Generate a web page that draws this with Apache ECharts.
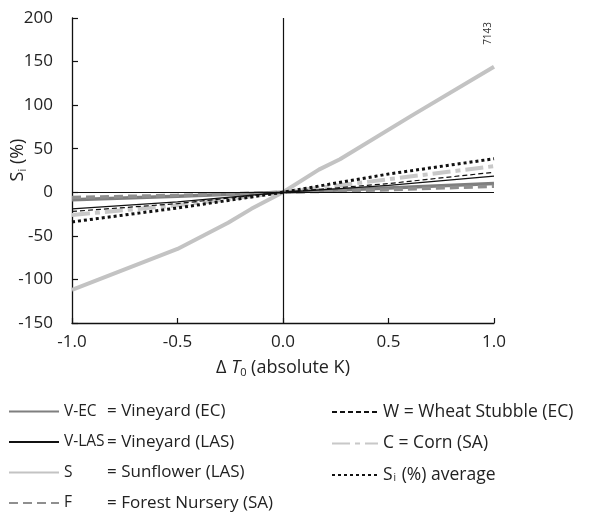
<!DOCTYPE html>
<html>
<head>
<meta charset="utf-8">
<script src="https://cdn.jsdelivr.net/npm/echarts@6/dist/echarts.min.js"></script>
<style>html,body{margin:0;padding:0;background:#fff}#c{width:611px;height:512px}</style>
</head>
<body>
<div id="c"></div>
<script>
var xTicks = [-1.0, -0.5, 0.0, 0.5, 1.0];
var yTicks = [-150, -100, -50, 0, 50, 100, 150, 200];

var xCommon = [-1.0, -0.5, 0.0, 0.5, 1.0];
var vEC   = [-8.5, -4.5, 0, 5, 10];
var vLAS  = [-19, -11, 0, 8, 18.5];
var forest = [-6, -3.5, 0, 3, 7];
var wheat = [-22, -13, 0, 10, 23];
var corn  = [-26, -15, 0, 15, 30];
var avg   = [-34, -18, 0, 21, 38.5];

var xSun = [-1.0, -0.5, -0.26, -0.15, 0.0, 0.17, 0.27, 0.61, 1.0];
var sun  = [-112, -65, -35, -19, 0, 26, 38, 88, 144];

function pairs(xs, ys){ return xs.map(function(x,i){ return [x, ys[i]]; }); }

var FONT = 'Open Sans';
var chart = echarts.init(document.getElementById('c'));

function mk(name, xs, ys, color, width, type, z){
  return {
    name: name, type: 'line', data: pairs(xs, ys), symbol: 'none', silent: true,
    z: z || 2,
    lineStyle: { color: color, width: width, type: type, cap: 'butt' },
    itemStyle: { color: color }
  };
}

var series = [
  mk('V-EC', xCommon, vEC, '#7f7f7f', 3.5, 'solid', 3),
  mk('V-LAS', xCommon, vLAS, '#111', 1.2, 'solid', 5),
  mk('S', xSun, sun, '#c3c3c3', 4, 'solid', 2),
  mk('F', xCommon, forest, '#8f8f8f', 3.5, [9, 5], 4),
  mk('W', xCommon, wheat, '#111', 1.2, [5, 3], 5),
  mk('C', xCommon, corn, '#c8c8c8', 4, [18, 5, 5, 5], 2),
  mk('AVG', xCommon, avg, '#111', 3, [3, 3], 6)
];
series[1].markLine = {
  silent: true, symbol: 'none', label: { show: false },
  lineStyle: { color: '#111', width: 1.2, type: 'solid' },
  data: [{ xAxis: 0 }, { yAxis: 0 }]
};

var leftNames = { 'V-EC': 'Vineyard (EC)', 'V-LAS': 'Vineyard (LAS)', 'S': 'Sunflower (LAS)', 'F': 'Forest Nursery (SA)' };
var rightNames = { 'W': 'W = Wheat Stubble (EC)', 'C': 'C = Corn (SA)', 'AVG': null };

var LF = 17;
var legendText = { fontFamily: FONT, fontSize: LF, color: '#222', lineHeight: 16,
  rich: {
    a: { fontFamily: FONT, fontSize: 15.5, color: '#222', width: 43, lineHeight: 16 },
    b: { fontFamily: FONT, fontSize: LF, color: '#222', lineHeight: 16 },
    r: { fontFamily: FONT, fontSize: 17.5, color: '#222', lineHeight: 16 },
    s: { fontFamily: FONT, fontSize: 17.5, color: '#222', lineHeight: 16 },
    sub: { fontFamily: FONT, fontSize: 10, color: '#222', verticalAlign: 'bottom', padding: [9, 1, 0, 1] }
  }
};

chart.setOption({
  animation: false,
  backgroundColor: '#fff',
  grid: { left: 72, right: 117, top: 18, bottom: 189, outerBoundsMode: 'none', containLabel: false },
  xAxis: {
    type: 'value', min: -1, max: 1, interval: 0.5,
    axisLine: { show: true, onZero: false, lineStyle: { color: '#111', width: 1.3 } },
    axisTick: { show: true, inside: true, length: 5, lineStyle: { color: '#111', width: 1.2 } },
    splitLine: { show: false },
    axisLabel: { fontFamily: FONT, fontSize: 17, color: '#222', margin: 11,
      formatter: function(v){ return v.toFixed(1); } },
    name: '{n|Δ }{i|T}{sub|0}{n| (absolute K)}',
    nameLocation: 'middle', nameGap: 35,
    nameTextStyle: { fontFamily: FONT, fontSize: 18, color: '#222',
      rich: {
        n: { fontFamily: FONT, fontSize: 18, color: '#222' },
        i: { fontFamily: FONT, fontSize: 18, color: '#222', fontStyle: 'italic' },
        sub: { fontFamily: FONT, fontSize: 11, color: '#222', verticalAlign: 'bottom', padding: [9, 0, 0, 0] }
      } }
  },
  yAxis: {
    type: 'value', min: -150, max: 200, interval: 50,
    axisLine: { show: true, onZero: false, lineStyle: { color: '#111', width: 1.3 } },
    axisTick: { show: true, inside: true, length: 6, lineStyle: { color: '#111', width: 1.2 } },
    splitLine: { show: false },
    axisLabel: { fontFamily: FONT, fontSize: 17, color: '#222', margin: 19 }
  },
  legend: [
    {
      data: ['V-EC', 'V-LAS', 'S', 'F'], orient: 'vertical', left: 8, top: 403, height: 140,
      itemWidth: 50, itemHeight: 14, itemGap: 13.5, selectedMode: false, padding: 0,
      itemStyle: { opacity: 0 },
      textStyle: legendText,
      formatter: function(n){ return '{a|' + n + '}{b|= ' + leftNames[n] + '}'; }
    },
    {
      data: ['W', 'C', 'AVG'], orient: 'vertical', left: 331, top: 403, height: 140,
      itemWidth: 46, itemHeight: 14, itemGap: 13.5, selectedMode: false, padding: 0,
      itemStyle: { opacity: 0 },
      textStyle: legendText,
      formatter: function(n){
        if (n === 'AVG') return '{s|S}{sub|i}{s| (%) average}';
        return '{r|' + rightNames[n] + '}';
      }
    }
  ],
  graphic: [
    { type: 'text', left: 483, top: 22, rotation: Math.PI / 2,
      style: { text: '7143', fontFamily: FONT, fontSize: 10, fill: '#333' } },
    { type: 'text', x: 18, y: 160, rotation: Math.PI / 2,
      style: { text: '{n|S}{sub|i}{n| (%)}', align: 'center', verticalAlign: 'middle',
        fontFamily: FONT, fontSize: 18, fill: '#222',
        rich: {
          n: { fontFamily: FONT, fontSize: 18, fill: '#222' },
          sub: { fontFamily: FONT, fontSize: 11, fill: '#222', verticalAlign: 'bottom', padding: [9, 0, 0, 0] }
        } } }
  ],
  series: series
});
</script>
</body>
</html>
